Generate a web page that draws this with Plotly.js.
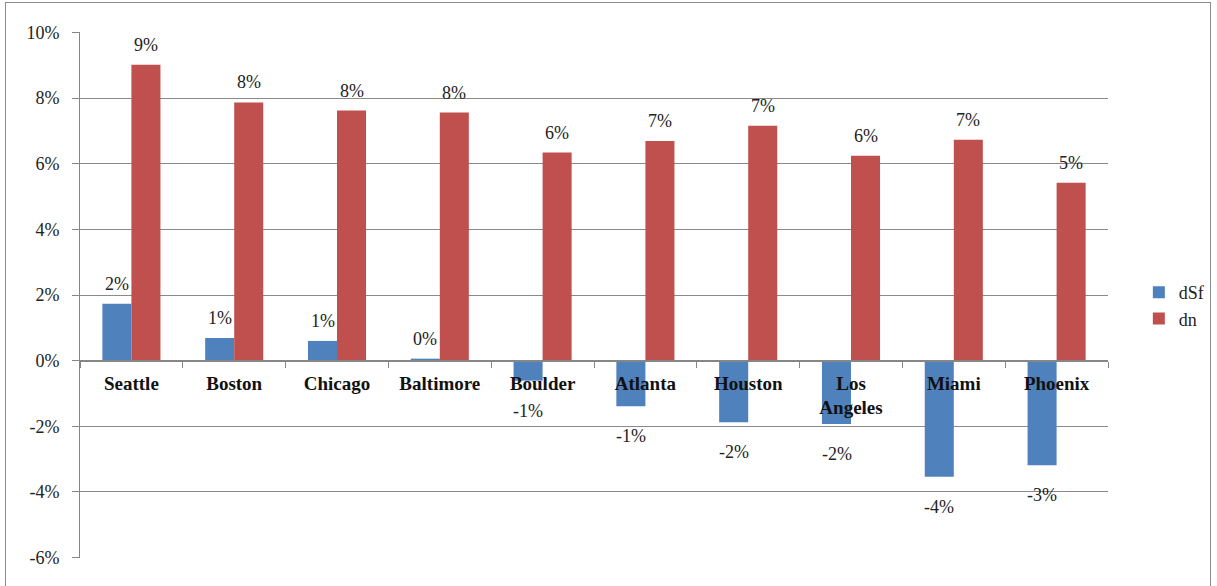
<!DOCTYPE html>
<html>
<head>
<meta charset="utf-8">
<script src="https://cdn.plot.ly/plotly-3.0.1.min.js"></script>
<style>
  html, body { margin: 0; padding: 0; background: #fff; }
  #wrap { position: relative; width: 1217px; height: 586px; }
  #chart { position: absolute; left: 0; top: 0; width: 1217px; height: 586px; }
  #frame { position: absolute; left: 5px; top: 2px; width: 1206px; height: 590px;
           border: 1px solid #8c8c8c; pointer-events: none; box-sizing: border-box; }
</style>
</head>
<body>
<div id="wrap">
  <div id="chart"></div>
  <div id="frame"></div>
</div>
<script>
const categories = ["Seattle", "Boston", "Chicago", "Baltimore", "Boulder", "Atlanta", "Houston", "Los<br>Angeles", "Miami", "Phoenix"];
const dSf = [0.0173, 0.0069, 0.0060, 0.0006, -0.0061, -0.0139, -0.0188, -0.0193, -0.0354, -0.0319];
const dn  = [0.0902, 0.0787, 0.0762, 0.0756, 0.0634, 0.0669, 0.0716, 0.0624, 0.0673, 0.0542];
const yTickVals = [-0.06, -0.04, -0.02, 0, 0.02, 0.04, 0.06, 0.08, 0.10];
const yTickText = ["-6%", "-4%", "-2%", "0%", "2%", "4%", "6%", "8%", "10%"];

const pct = v => Math.round(v * 100) + "%";
const serif = "Liberation Serif";

const traces = [
  { type: "bar", name: "dSf", x: categories, y: dSf, marker: { color: "#4F81BD" }, hoverinfo: "x+y" },
  { type: "bar", name: "dn",  x: categories, y: dn,  marker: { color: "#C0504D" }, hoverinfo: "x+y" }
];

function labels(values, xshift) {
  return values.map((v, i) => ({
    x: categories[i], y: v, xref: "x", yref: "y",
    text: pct(v), showarrow: false,
    xanchor: "center", yanchor: "middle",
    xshift: xshift, yshift: v >= 0 ? 20 : -30,
    font: { family: serif, size: 18, color: "#222" }
  }));
}

const layout = {
  width: 1217, height: 586,
  margin: { l: 80, r: 109, t: 32, b: 28, pad: 0, autoexpand: false },
  paper_bgcolor: "#ffffff", plot_bgcolor: "#ffffff",
  barmode: "group", bargap: 0.435, bargroupgap: 0,
  font: { family: serif, size: 17, color: "#222" },
  showlegend: true,
  legend: {
    x: 1.03, y: 0.48, xanchor: "left", yanchor: "middle",
    font: { family: serif, size: 18, color: "#222" },
    itemwidth: 30, tracegroupgap: 0, bgcolor: "rgba(0,0,0,0)"
  },
  annotations: labels(dSf, -14.5).concat(labels(dn, 14.5)),
  xaxis: {
    type: "category", anchor: "free", position: 0.376,
    showgrid: false, zeroline: false,
    showline: true, linecolor: "#868686", linewidth: 1.5,
    ticks: "outside", tickson: "boundaries", ticklen: 6, tickcolor: "#868686",
    ticklabelstandoff: 5,
    tickfont: { family: serif, size: 19, color: "#111", weight: "bold" },
    fixedrange: true
  },
  yaxis: {
    range: [-0.06015, 0.10015],
    tickvals: yTickVals, ticktext: yTickText,
    showgrid: true, gridcolor: "#8a8a8a", gridwidth: 1,
    zeroline: false,
    showline: true, linecolor: "#868686", linewidth: 1,
    ticks: "outside", ticklen: 7, tickcolor: "#868686",
    ticklabelstandoff: 9,
    tickfont: { family: serif, size: 18, color: "#222" },
    fixedrange: true
  }
};

Plotly.newPlot("chart", traces, layout, { displayModeBar: false, staticPlot: true });
</script>
</body>
</html>
